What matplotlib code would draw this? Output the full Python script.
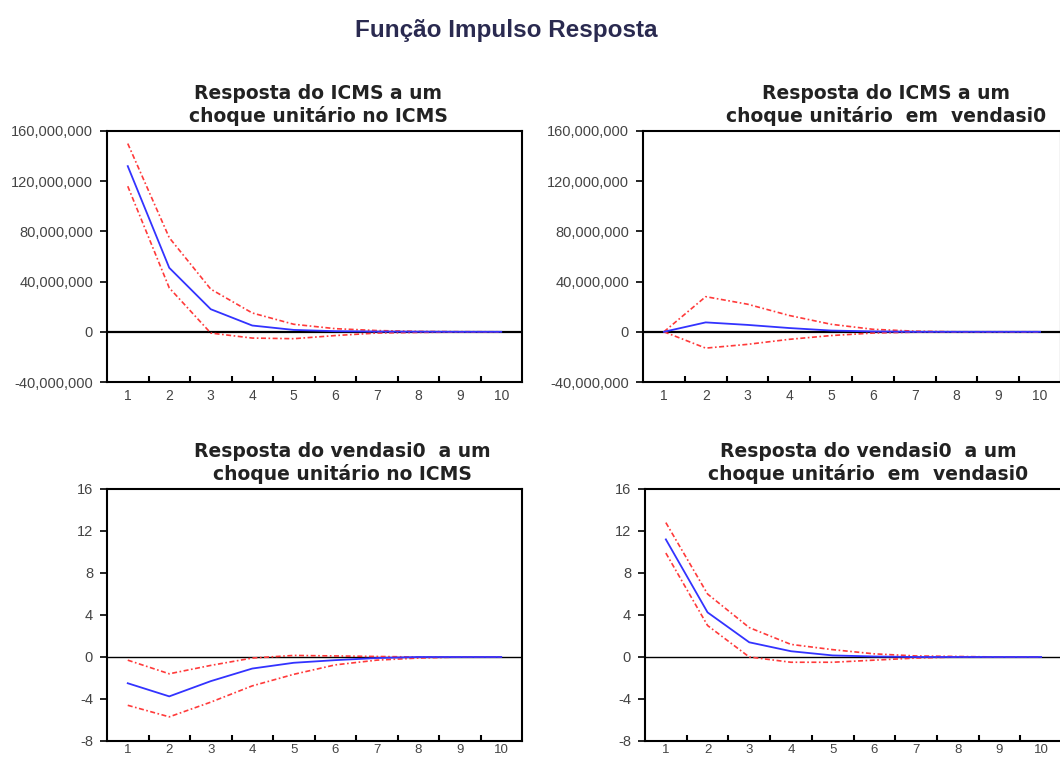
import matplotlib
matplotlib.use('Agg')
import matplotlib.pyplot as plt
from matplotlib.ticker import FuncFormatter, FixedLocator

plt.rcParams['font.family'] = ['Liberation Sans', 'DejaVu Sans']

periods = [1, 2, 3, 4, 5, 6, 7, 8, 9, 10]

# ICMS response to ICMS shock
icms_icms = [132e6, 51e6, 18e6, 5e6, 1.5e6, 0.5e6, 0.2e6, 0.1e6, 0.0, 0.0]
icms_icms_up = [150e6, 75e6, 34e6, 15e6, 6e6, 2.5e6, 1e6, 0.3e6, 0.1e6, 0.0]
icms_icms_lo = [116e6, 35e6, -1e6, -5e6, -5.5e6, -3e6, -1e6, -0.5e6, -0.2e6, 0.0]

# ICMS response to vendasi0 shock
icms_vend = [0.0, 7.5e6, 5.5e6, 3e6, 1e6, 0.3e6, 0.0, 0.0, 0.0, 0.0]
icms_vend_up = [0.0, 28e6, 22e6, 13e6, 6e6, 2e6, 0.5e6, 0.0, 0.0, 0.0]
icms_vend_lo = [0.0, -13e6, -10e6, -6e6, -3e6, -1e6, -0.3e6, 0.0, 0.0, 0.0]

# vendasi0 response to ICMS shock
vend_icms = [-2.5, -3.75, -2.3, -1.1, -0.55, -0.3, -0.1, 0.0, 0.0, 0.0]
vend_icms_up = [-0.3, -1.6, -0.8, -0.1, 0.15, 0.1, 0.05, 0.0, 0.0, 0.0]
vend_icms_lo = [-4.6, -5.7, -4.3, -2.75, -1.65, -0.75, -0.3, -0.1, 0.0, 0.0]

# vendasi0 response to vendasi0 shock
vend_vend = [11.2, 4.25, 1.4, 0.55, 0.15, 0.05, 0.0, 0.0, 0.0, 0.0]
vend_vend_up = [12.8, 6.0, 2.8, 1.2, 0.7, 0.3, 0.1, 0.05, 0.0, 0.0]
vend_vend_lo = [9.9, 3.0, 0.0, -0.5, -0.5, -0.3, -0.1, 0.0, 0.0, 0.0]

big_ticks = [-40e6, 0, 40e6, 80e6, 120e6, 160e6]
small_ticks = [-8, -4, 0, 4, 8, 12, 16]

titles = ['Resposta do ICMS a um\nchoque unitário no ICMS',
          'Resposta do ICMS a um\nchoque unitário  em  vendasi0',
          'Resposta do vendasi0  a um\nchoque unitário no ICMS',
          'Resposta do vendasi0  a um\nchoque unitário  em  vendasi0']

fig = plt.figure(figsize=(10.6, 7.62), dpi=100)
W, H = 1060., 762.

# axes boxes in pixels: left, top, right, bottom
boxes = [(107, 131, 522, 382), (643, 131, 1061, 382),
         (107, 489, 522, 741), (645, 489, 1062, 741)]
title_x = [318, 886, 342, 868]

panels = [(icms_icms, icms_icms_up, icms_icms_lo, big_ticks),
          (icms_vend, icms_vend_up, icms_vend_lo, big_ticks),
          (vend_icms, vend_icms_up, vend_icms_lo, small_ticks),
          (vend_vend, vend_vend_up, vend_vend_lo, small_ticks)]

for i, (resp, up, lo, yt) in enumerate(panels):
    l, t, r, b = boxes[i]
    ax = fig.add_axes([l / W, 1 - b / H, (r - l) / W, (b - t) / H])
    ax.axhline(0, color='black', lw=1.6 if i < 2 else 1.0, zorder=1)
    ax.plot(periods, up, color='#ff3a3a', lw=1.2, ls=(0, (3, 1.5, 1, 1.5)), zorder=2)
    ax.plot(periods, lo, color='#ff3a3a', lw=1.2, ls=(0, (3, 1.5, 1, 1.5)), zorder=2)
    ax.plot(periods, resp, color='#3333ff', lw=1.3, zorder=3)
    ax.set_xlim(0.5, 10.5)
    ax.set_ylim(yt[0], yt[-1])
    ax.set_yticks(yt)
    if i < 2:
        ax.yaxis.set_major_formatter(FuncFormatter(lambda v, p: f'{int(v):,}'))
    else:
        ax.yaxis.set_major_formatter(FuncFormatter(lambda v, p: f'{int(v)}'))
    ax.set_xticks(periods)
    ax.set_xticklabels([str(p) for p in periods])
    ax.xaxis.set_minor_locator(FixedLocator([p + 0.5 for p in periods[:-1]]))
    ax.tick_params(axis='x', which='major', length=0, pad=5 if i < 2 else 2,
                   labelsize=10 if i < 2 else 9.5, labelcolor='#444444')
    ax.tick_params(axis='x', which='minor', length=4, width=1.5, direction='in', color='black')
    ax.tick_params(axis='y', length=5, width=1.2, pad=5, labelsize=10.5, labelcolor='#444444')
    for s in ax.spines.values():
        s.set_linewidth(1.5)
    fig.text(title_x[i] / W, 1 - (t - 5) / H, titles[i], ha='center', va='bottom',
             fontsize=13.5, fontweight='bold', color='#222222', linespacing=1.2,
             family='DejaVu Sans')

fig.text(506 / W, 1 - 30 / H, 'Função Impulso Resposta', ha='center', va='center',
         fontsize=17.5, fontweight='bold', color='#2a2a50')

fig.savefig('out.png', dpi=100)
